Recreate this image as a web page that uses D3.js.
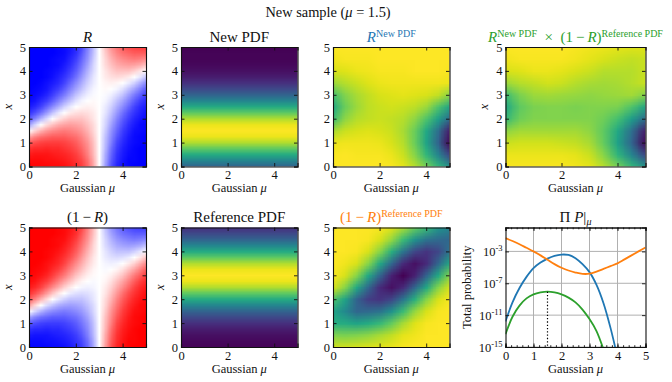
<!DOCTYPE html>
<html>
<head>
<meta charset="utf-8">
<script src="https://d3js.org/d3.v7.min.js"></script>
<style>
    html, body { margin: 0; background: #fff; }
    svg { display: block; }
    text { font-family: "Liberation Serif", "DejaVu Serif", serif; fill: #111; }
    .domain { stroke: #111; stroke-width: 1.1px; }
    .tick line { stroke: #111; stroke-width: 0.9px; }
    .tick text { font-size: 12.5px; }
</style>
</head>
<body>
<div id="chart"></div>
<script>
// grid nodes, gaussian mu across and x up
var muNodesFine = [0, .25, .5, .75, 1, 1.25, 1.5, 1.75, 2, 2.25, 2.5, 2.75, 3, 3.25, 3.5, 3.75, 4, 4.25, 4.5, 4.75, 5];

// R in percent, one row per mu (0 to 5 by .25), each row x = 0 to 5 by .25
var ratio = [
    [99, 98, 95, 90, 82, 68, 50, 32, 18, 10, 5, 2, 1, 0, 0, 0, 0, 0, 0, 0, 0],
    [99, 98, 96, 92, 85, 74, 58, 42, 26, 15, 8, 4, 2, 1, 0, 0, 0, 0, 0, 0, 0],
    [99, 98, 96, 92, 87, 78, 65, 50, 35, 22, 13, 8, 4, 2, 1, 0, 0, 0, 0, 0, 0],
    [99, 97, 96, 93, 88, 80, 70, 57, 43, 30, 20, 12, 7, 4, 3, 1, 1, 0, 0, 0, 0],
    [98, 97, 95, 92, 88, 82, 73, 62, 50, 38, 27, 18, 12, 8, 5, 3, 2, 1, 1, 0, 0],
    [98, 96, 94, 92, 88, 82, 75, 66, 55, 45, 34, 25, 18, 12, 8, 6, 4, 2, 2, 1, 1],
    [97, 95, 93, 90, 87, 82, 76, 68, 59, 50, 41, 32, 24, 18, 13, 10, 7, 5, 3, 2, 2],
    [95, 93, 91, 88, 85, 80, 75, 69, 62, 54, 46, 38, 31, 25, 20, 15, 12, 9, 7, 5, 4],
    [92, 90, 88, 85, 82, 78, 73, 68, 62, 56, 50, 44, 38, 32, 27, 22, 18, 15, 12, 9, 8],
    [88, 86, 83, 80, 77, 74, 70, 66, 62, 57, 52, 48, 43, 38, 34, 30, 26, 23, 20, 17, 14],
    [80, 78, 75, 73, 71, 68, 65, 62, 59, 56, 53, 50, 47, 44, 41, 38, 35, 32, 29, 27, 25],
    [67, 66, 64, 63, 62, 60, 58, 57, 55, 54, 52, 51, 49, 48, 46, 45, 43, 42, 40, 38, 37],
    [50, 50, 50, 50, 50, 50, 50, 50, 50, 50, 50, 50, 50, 50, 50, 50, 50, 50, 50, 50, 50],
    [31, 33, 34, 36, 37, 38, 40, 42, 43, 45, 46, 48, 49, 51, 52, 54, 55, 57, 58, 60, 62],
    [16, 18, 20, 22, 25, 27, 29, 32, 35, 38, 41, 44, 47, 50, 53, 56, 59, 62, 65, 68, 71],
    [7, 9, 10, 12, 14, 17, 20, 23, 26, 30, 34, 38, 43, 48, 52, 57, 62, 66, 70, 74, 77],
    [3, 4, 5, 6, 8, 10, 12, 15, 18, 22, 27, 32, 38, 44, 50, 56, 62, 68, 73, 78, 82],
    [1, 1, 2, 3, 4, 5, 7, 9, 12, 15, 20, 25, 31, 38, 46, 54, 62, 69, 75, 80, 85],
    [0, 1, 1, 1, 2, 2, 3, 5, 7, 10, 13, 18, 24, 32, 41, 50, 59, 68, 76, 82, 87],
    [0, 0, 0, 0, 1, 1, 2, 2, 4, 6, 8, 12, 18, 25, 34, 45, 55, 66, 75, 82, 88],
    [0, 0, 0, 0, 0, 0, 1, 1, 2, 3, 5, 8, 12, 18, 27, 38, 50, 62, 73, 82, 88]
];

// the two sample pdfs only change with x (x = 0 to 5 by .25), percent of the colour range
var newPdf = [32, 46, 61, 75, 88, 97, 100, 97, 88, 75, 61, 46, 32, 22, 14, 8, 4, 2, 1, 1, 0];
var refPdf = [1, 2, 4, 8, 14, 22, 32, 46, 61, 75, 88, 97, 100, 97, 88, 75, 61, 46, 32, 22, 14];

// colour position in percent, one row per mu (0 to 5 by .5), each row x = 0 to 5 by .5
var ratioPowNew = [
    [100, 99, 97, 87, 68, 60, 70, 85, 94, 98, 100],
    [100, 100, 98, 92, 83, 77, 81, 89, 95, 99, 100],
    [100, 99, 98, 94, 89, 85, 87, 92, 97, 99, 100],
    [100, 99, 98, 95, 91, 90, 91, 95, 98, 99, 100],
    [100, 99, 97, 94, 92, 92, 94, 97, 99, 100, 100],
    [99, 97, 94, 92, 91, 93, 95, 98, 99, 100, 100],
    [96, 92, 89, 87, 89, 92, 96, 98, 99, 100, 100],
    [89, 82, 77, 77, 83, 90, 95, 98, 100, 100, 100],
    [79, 66, 58, 60, 72, 85, 94, 98, 100, 100, 100],
    [66, 45, 32, 36, 56, 72, 91, 98, 100, 100, 100],
    [51, 21, 1, 7, 34, 58, 82, 97, 99, 100, 100]
];
var ratioProduct = [
    [99, 97, 92, 83, 67, 60, 69, 85, 94, 98, 100],
    [99, 97, 93, 86, 78, 75, 80, 89, 95, 99, 100],
    [99, 97, 93, 86, 81, 80, 85, 91, 97, 99, 100],
    [99, 97, 93, 86, 81, 81, 86, 93, 97, 99, 100],
    [99, 97, 92, 86, 81, 81, 85, 92, 96, 99, 100],
    [98, 96, 91, 86, 81, 80, 84, 89, 94, 98, 99],
    [96, 92, 87, 83, 81, 81, 83, 87, 92, 96, 98],
    [89, 82, 76, 75, 78, 81, 84, 86, 89, 94, 97],
    [79, 65, 57, 60, 70, 80, 85, 87, 89, 92, 96],
    [66, 45, 32, 36, 55, 72, 86, 89, 89, 91, 95],
    [51, 21, 1, 7, 34, 58, 81, 92, 92, 92, 95]
];
var invRatioPowRef = [
    [93, 81, 62, 58, 72, 94, 99, 100, 100, 100, 100],
    [93, 80, 61, 47, 58, 82, 94, 98, 100, 100, 100],
    [94, 81, 58, 33, 32, 60, 82, 94, 99, 100, 100],
    [95, 83, 61, 34, 18, 33, 60, 82, 94, 99, 100],
    [96, 87, 67, 38, 15, 12, 32, 60, 82, 94, 99],
    [97, 91, 76, 51, 21, 4, 9, 33, 63, 84, 95],
    [99, 96, 87, 68, 39, 12, 0, 12, 39, 68, 87],
    [100, 98, 95, 84, 63, 33, 9, 4, 21, 51, 76],
    [100, 100, 99, 94, 82, 60, 32, 12, 15, 38, 67],
    [100, 100, 100, 99, 94, 82, 60, 33, 21, 34, 52],
    [100, 100, 100, 100, 99, 94, 82, 60, 39, 33, 45]
];

// total probability, log10, read at mu = 0, .25, ...
var blueLog = [-11.8, -9.4, -7.6, -6.2, -5.1, -4.4, -3.9, -3.55, -3.4, -3.45, -3.85, -4.6, -5.6, -7.2, -9.5, -12.6, -16.3];
var orangeLog = [-1.33, -1.7, -2.1, -2.55, -3, -3.5, -4.05, -4.6, -5.05, -5.4, -5.65, -5.82, -5.8, -5.55, -5.2, -4.85, -4.5, -4, -3.5, -3, -2.5];
var greenLog = [-13.4, -11.2, -9.8, -8.9, -8.4, -8.15, -8.05, -8.15, -8.4, -8.8, -9.4, -10.3, -11.5, -13, -15.3, -18];
var bestMu = 1.5;
var bestLog = -8.05;

var blue = "#1f77b4", orange = "#ff7f0e", green = "#2ca02c";

var svg = d3.select("#chart").append("svg").attr("width", 672).attr("height", 382);

var bwr = d3.scaleLinear().domain([0, 50, 100]).range(["#0000ff", "#ffffff", "#ff0000"]);
var viridis = d3.scaleSequential(d3.interpolateViridis).domain([0, 100]);

// text with roman / italic / superscript runs
function runs(sel, parts, supSize) {
    var up = 0;
    parts.forEach(function(p) {
        var t = sel.append("tspan").text(p.t);
        if (p.i) t.style("font-style", "italic");
        var want = p.sup ? -5 : (p.sub ? 3 : 0);
        if (want != up) { t.attr("dy", want - up); up = want; }
        if (p.sup || p.sub) t.style("font-size", supSize + "px");
    });
}

function panel(box, yLabel, title) {
    var g = svg.append("g").attr("transform", "translate(" + box.left + "," + box.top + ")");
    var xs = d3.scaleLinear().domain([0, 5]).range([0, box.w]);
    g.xs = xs;
    g.box = box;
    var id = "clip" + Math.round(box.left) + "_" + Math.round(box.top);
    g.append("clipPath").attr("id", id).append("rect").attr("width", box.w).attr("height", box.h);
    g.plot = g.append("g").attr("clip-path", "url(#" + id + ")");

    g.append("text").attr("x", box.w / 2).attr("y", box.h + 25.5).attr("text-anchor", "middle")
        .style("font-size", "12.5px").call(runs, [{ t: "Gaussian " }, { t: "\u03bc", i: 1 }]);
    if (yLabel) {
        g.append("text").attr("transform", "translate(" + yLabel.dx + "," + (box.h / 2) + ") rotate(-90)")
            .attr("text-anchor", "middle").style("font-size", "12.5px")
            .call(runs, yLabel.parts);
    }
    g.append("text").attr("x", box.w / 2).attr("y", -5.5).attr("text-anchor", "middle")
        .style("font-size", "15px").style("fill", title.color || "#111").call(function(s) {
            runs(s, title.parts, 10);
            s.selectAll("tspan").style("fill", title.color || "#111");
        });
    return g;
}

function xAxes(g, ticks, minor) {
    var xs = g.xs, h = g.box.h;
    if (minor) {
        g.append("g").attr("transform", "translate(0," + h + ")").call(d3.axisBottom(xs).tickValues(minor).tickSize(-1.8).tickFormat(""));
        g.append("g").call(d3.axisTop(xs).tickValues(minor).tickSize(-1.8).tickFormat(""));
    }
    g.append("g").attr("transform", "translate(0," + h + ")")
        .call(d3.axisBottom(xs).tickValues(ticks).tickSize(-3.5).tickPadding(4).tickFormat(d3.format("d")));
    g.append("g").call(d3.axisTop(xs).tickValues(ticks).tickSize(-3.5).tickFormat(""));
}

function heat(box, grid, color, yLabel, title) {
    var g = panel(box, yLabel, title);
    var ys = d3.scaleLinear().domain([0, 5]).range([box.h, 0]);
    var nx = grid.length, ny = grid[0].length;
    var cv = document.createElement("canvas");
    cv.width = nx;
    cv.height = ny;
    var ctx = cv.getContext("2d");
    grid.forEach(function(col, i) {
        col.forEach(function(v, j) {
            ctx.fillStyle = color(v);
            ctx.fillRect(i, ny - 1 - j, 1, 1);
        });
    });
    // nodes sit on the axis limits so the picture hangs half a cell over and gets clipped
    var dx = 5 / (nx - 1) / 2, dy = 5 / (ny - 1) / 2;
    g.plot.append("image").attr("href", cv.toDataURL())
        .attr("x", g.xs(-dx)).attr("y", ys(5 + dy))
        .attr("width", g.xs(5 + dx) - g.xs(-dx)).attr("height", ys(-dy) - ys(5 + dy))
        .attr("preserveAspectRatio", "none");

    xAxes(g, [0, 2, 4]);
    g.append("g").call(d3.axisLeft(ys).tickValues([0, 1, 2, 3, 4, 5]).tickSize(-3.5).tickPadding(3).tickFormat(d3.format("d")));
    g.append("g").attr("transform", "translate(" + box.w + ",0)")
        .call(d3.axisRight(ys).tickValues([0, 1, 2, 3, 4, 5]).tickSize(-3.5).tickFormat(""));
    return g;
}

// the pdfs get repeated across mu so they go through the same drawing as the rest
function flat(pdf) {
    return [pdf, pdf];
}

var topRow = 47, botRow = 227.5, hgt = 119.5;
var xLab = { dx: -17.5, parts: [{ t: "x", i: 1 }] };

heat({ left: 29, top: topRow, w: 117, h: hgt }, ratio, bwr, xLab,
    { parts: [{ t: "R", i: 1 }] });
heat({ left: 181, top: topRow, w: 116.5, h: hgt }, flat(newPdf), viridis, xLab,
    { parts: [{ t: "New PDF" }] });
heat({ left: 333, top: topRow, w: 116.5, h: hgt }, ratioPowNew, viridis, null,
    { color: blue, parts: [{ t: "R", i: 1 }, { t: "New\u00a0PDF", sup: 1 }] });
heat({ left: 505.5, top: topRow, w: 140, h: hgt }, ratioProduct, viridis, xLab,
    { color: green, parts: [{ t: "R", i: 1 }, { t: "New\u00a0PDF", sup: 1 }, { t: "\u00a0\u00a0\u00d7\u00a0\u00a0(1\u2009\u2212\u2009" }, { t: "R", i: 1 }, { t: ")" }, { t: "Reference\u00a0PDF", sup: 1 }] });

heat({ left: 29, top: botRow, w: 117, h: hgt }, ratio, function(v) { return bwr(100 - v); }, xLab,
    { parts: [{ t: "(1\u2009\u2212\u2009" }, { t: "R", i: 1 }, { t: ")" }] });
heat({ left: 181, top: botRow, w: 116.5, h: hgt }, flat(refPdf), viridis, xLab,
    { parts: [{ t: "Reference PDF" }] });
heat({ left: 333, top: botRow, w: 116.5, h: hgt }, invRatioPowRef, viridis, null,
    { color: orange, parts: [{ t: "(1\u2009\u2212\u2009" }, { t: "R", i: 1 }, { t: ")" }, { t: "Reference\u00a0PDF", sup: 1 }] });

// total probability panel
var lineBox = { left: 505.5, top: botRow, w: 140, h: hgt };
var gl = panel(lineBox, { dx: -35, parts: [{ t: "Total probability" }] },
    { parts: [{ t: "\u03a0\u00a0" }, { t: "P", i: 1 }, { t: "|" }, { t: "\u03bc", i: 1, sub: 1 }] });
var ly = d3.scaleLog().domain([1e-15, 1]).range([lineBox.h, 0]);
var lineTicks = [1e-15, 1e-11, 1e-7, 1e-3];

gl.plot.selectAll(".gridx").data([1, 2, 3, 4]).enter().append("line")
    .attr("x1", gl.xs).attr("x2", gl.xs).attr("y1", 0).attr("y2", lineBox.h)
    .attr("stroke", "#b0b0b0").attr("stroke-width", 1);
gl.plot.selectAll(".gridy").data(lineTicks).enter().append("line")
    .attr("y1", ly).attr("y2", ly).attr("x1", 0).attr("x2", lineBox.w)
    .attr("stroke", "#b0b0b0").attr("stroke-width", 1);

var toLine = d3.line()
    .x(function(d, i) { return gl.xs(muNodesFine[i]); })
    .y(function(d) { return ly(Math.pow(10, d)); })
    .curve(d3.curveCatmullRom);

[[blueLog, blue], [orangeLog, orange], [greenLog, green]].forEach(function(s) {
    gl.plot.append("path").attr("d", toLine(s[0])).attr("fill", "none")
        .attr("stroke", s[1]).attr("stroke-width", 1.8);
});

gl.plot.append("line").attr("x1", gl.xs(bestMu)).attr("x2", gl.xs(bestMu))
    .attr("y1", ly(Math.pow(10, bestLog))).attr("y2", lineBox.h)
    .attr("stroke", "#000").attr("stroke-width", 1.2).attr("stroke-dasharray", "1.3,2");

xAxes(gl, [0, 1, 2, 3, 4, 5], d3.range(0, 5.01, .2));
var la = gl.append("g").call(d3.axisLeft(ly).tickValues(lineTicks).tickSize(-3.5).tickPadding(3).tickFormat(""));
gl.append("g").attr("transform", "translate(" + lineBox.w + ",0)")
    .call(d3.axisRight(ly).tickValues(lineTicks).tickSize(-3.5).tickFormat(""));
la.selectAll(".tick text").text(null).each(function(d) {
    d3.select(this).call(runs, [{ t: "10" }, { t: "-" + Math.round(-Math.log10(d)), sup: 1 }], 8.5);
});

// figure title
svg.append("text").attr("x", 328).attr("y", 17).attr("text-anchor", "middle").style("font-size", "14.4px")
    .call(runs, [{ t: "New sample (" }, { t: "\u03bc", i: 1 }, { t: " = 1.5)" }]);
</script>
</body>
</html>
